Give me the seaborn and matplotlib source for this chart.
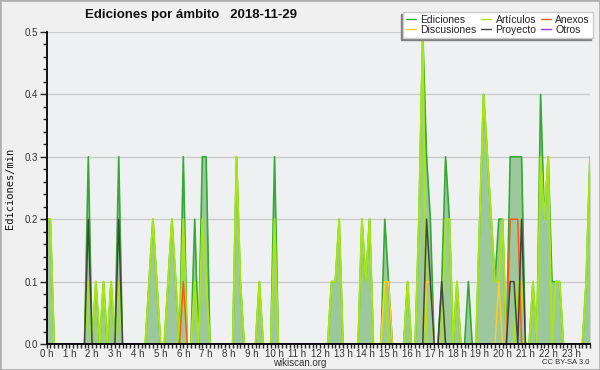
import numpy as np
import matplotlib
matplotlib.use("Agg")
import matplotlib.pyplot as plt
import seaborn as sns
from matplotlib import font_manager
from matplotlib.ticker import MultipleLocator, FormatStrFormatter
from matplotlib.patches import Rectangle

# edits per minute, one value per 10-minute bin (12 bins per row = 2 hours)
ediciones = [
    0.2, 0.2, 0, 0, 0, 0, 0, 0, 0, 0, 0, 0.3,
    0, 0.1, 0, 0.1, 0, 0.1, 0, 0.3, 0, 0, 0, 0,
    0, 0, 0, 0.1, 0.2, 0.1, 0, 0, 0.1, 0.2, 0.1, 0,
    0.3, 0, 0, 0.2, 0, 0.3, 0.3, 0, 0, 0, 0, 0,
    0, 0, 0.3, 0.1, 0, 0, 0, 0, 0.1, 0, 0, 0,
    0.3, 0, 0, 0, 0, 0, 0, 0, 0, 0, 0, 0,
    0, 0, 0, 0.1, 0.1, 0.2, 0, 0, 0, 0, 0, 0.2,
    0.1, 0.2, 0, 0, 0, 0.2, 0.1, 0, 0, 0, 0, 0.1,
    0, 0, 0.2, 0.5, 0.3, 0.2, 0, 0, 0.1, 0.3, 0.2, 0,
    0.1, 0, 0, 0.1, 0, 0, 0.2, 0.4, 0.3, 0.2, 0.1, 0.2,
    0.2, 0, 0.3, 0.3, 0.3, 0.3, 0, 0, 0.1, 0, 0.4, 0.2,
    0.3, 0.1, 0.1, 0.1, 0, 0, 0, 0, 0, 0, 0.1, 0.3,
]
articulos = [
    0.2, 0.2, 0, 0, 0, 0, 0, 0, 0, 0, 0, 0.1,
    0, 0.1, 0, 0.1, 0, 0.1, 0, 0.1, 0, 0, 0, 0,
    0, 0, 0, 0.1, 0.2, 0.1, 0, 0, 0.1, 0.2, 0.1, 0,
    0.2, 0, 0, 0.1, 0, 0.2, 0.1, 0, 0, 0, 0, 0,
    0, 0, 0.3, 0.1, 0, 0, 0, 0, 0.1, 0, 0, 0,
    0.2, 0, 0, 0, 0, 0, 0, 0, 0, 0, 0, 0,
    0, 0, 0, 0.1, 0.1, 0.2, 0, 0, 0, 0, 0, 0.2,
    0.1, 0.2, 0, 0, 0, 0.1, 0, 0, 0, 0, 0, 0.1,
    0, 0, 0.2, 0.5, 0, 0, 0, 0, 0, 0.2, 0.2, 0,
    0.1, 0, 0, 0, 0, 0, 0.2, 0.4, 0.3, 0.2, 0.1, 0.1,
    0.2, 0, 0, 0, 0.1, 0.1, 0, 0, 0.1, 0, 0.3, 0.2,
    0.3, 0, 0.1, 0.1, 0, 0, 0, 0, 0, 0, 0.1, 0.3,
]
# sparse series: {bin index: edits/min}
discusiones = {89: 0.1, 90: 0.1, 100: 0.1, 101: 0.1, 119: 0.1}
anexos = {36: 0.1, 122: 0.2, 123: 0.2, 124: 0.2}
proyecto = {11: 0.2, 19: 0.2, 100: 0.2, 101: 0.1, 104: 0.1,
            122: 0.1, 123: 0.1, 125: 0.2}
otros = {}

hour_labels = [f"{h} h" for h in range(24)]
title = "Ediciones por ámbito   2018-11-29"


def expand(sparse):
    vals = np.zeros(len(ediciones))
    for k, v in sparse.items():
        vals[k] = v
    return vals


installed = {f.name for f in font_manager.fontManager.ttflist}
narrow = "Liberation Sans Narrow" if "Liberation Sans Narrow" in installed \
    else "Liberation Sans"

sns.set_style("ticks")
plt.rcParams["font.family"] = [narrow, "DejaVu Sans"]

hours = np.arange(len(ediciones)) / 6.0

fig = plt.figure(figsize=(6, 3.7), dpi=100, facecolor="#f0f0f0")
ax = fig.add_axes([46.5 / 600, 26 / 370, 543.5 / 600, 312 / 370])
ax.set_facecolor("#eef0f2")

ax.fill_between(hours, ediciones, color="#9dc89d", lw=0, zorder=1)
series = [
    ("Ediciones", ediciones, "#33aa33", 1.2),
    ("Artículos", articulos, "#a6e80c", 1.4),
    ("Discusiones", expand(discusiones), "#ffcc22", 1.1),
    ("Anexos", expand(anexos), "#ff5a14", 1.1),
    ("Proyecto", expand(proyecto), "#444444", 1.1),
    ("Otros", expand(otros), "#9933ff", 1.1),
]
for name, vals, col, lw in series:
    sns.lineplot(x=hours, y=vals, color=col, lw=lw, ax=ax, label=name,
                 zorder=2)

ax.set_xlim(0, hours[-1])
ax.set_ylim(0, 0.5)
ax.yaxis.set_major_locator(MultipleLocator(0.1))
ax.yaxis.set_minor_locator(MultipleLocator(0.02))
ax.yaxis.set_major_formatter(FormatStrFormatter("%.1f"))
ax.set_xticks(range(24))
ax.set_xticklabels(hour_labels)
ax.xaxis.set_minor_locator(MultipleLocator(1 / 6))
ax.grid(axis="y", color="#cccccc", lw=1)
ax.set_axisbelow(True)
for s in ["top", "right"]:
    ax.spines[s].set_visible(False)
for s in ["left", "bottom"]:
    ax.spines[s].set_color("black")
    ax.spines[s].set_linewidth(1.3)
ax.tick_params(axis="y", which="major", length=5, width=1, labelsize=7,
               labelcolor="#333333", pad=1)
ax.tick_params(axis="y", which="minor", length=3, width=1)
ax.tick_params(axis="x", which="both", length=3, width=1, labelsize=7,
               labelcolor="#333333", pad=0.5)
ax.set_xlabel("")
ax.set_ylabel("")

handles, labels = ax.get_legend_handles_labels()
ax.get_legend().remove()
order = ["Ediciones", "Discusiones", "Artículos", "Proyecto", "Anexos", "Otros"]
hmap = dict(zip(labels, handles))
leg = fig.legend([hmap[k] for k in order], order, ncol=3, loc="upper right",
                 bbox_to_anchor=(593 / 600, 1 - 12 / 370), fontsize=7.5,
                 frameon=True, fancybox=False, edgecolor="#cccccc",
                 facecolor="white", framealpha=1, handlelength=1.0,
                 handletextpad=0.4, columnspacing=0.4, labelspacing=0.0,
                 borderpad=0.3, borderaxespad=0,
                 shadow={"ox": -1.5, "oy": -1.5, "facecolor": "#808080",
                         "edgecolor": "#808080", "alpha": 1})
for t in leg.get_texts():
    t.set_color("#222222")
for h in leg.legend_handles:
    h.set_linewidth(1.0)

fig.text(85 / 600, 1 - 15 / 370, title, fontsize=9.5, fontweight="bold",
         ha="left", va="center", color="#111111")
fig.text(10 / 600, 1 - 188 / 370, "Ediciones/min", rotation=90,
         family="DejaVu Sans Mono", fontsize=7.5, ha="center", va="center",
         color="#111111")
fig.text(300 / 600, 1 - 362.5 / 370, "wikiscan.org", fontsize=7,
         ha="center", va="center", color="#333333")
fig.text(589 / 600, 1 - 362.5 / 370, "CC BY-SA 3.0", fontsize=5.5,
         ha="right", va="center", color="#333333")
fig.patches.append(Rectangle((0, 0), 1, 1, transform=fig.transFigure,
                             fill=False, edgecolor="#b0b0b0", lw=2))

fig.savefig("out.png", dpi=100, facecolor=fig.get_facecolor())
